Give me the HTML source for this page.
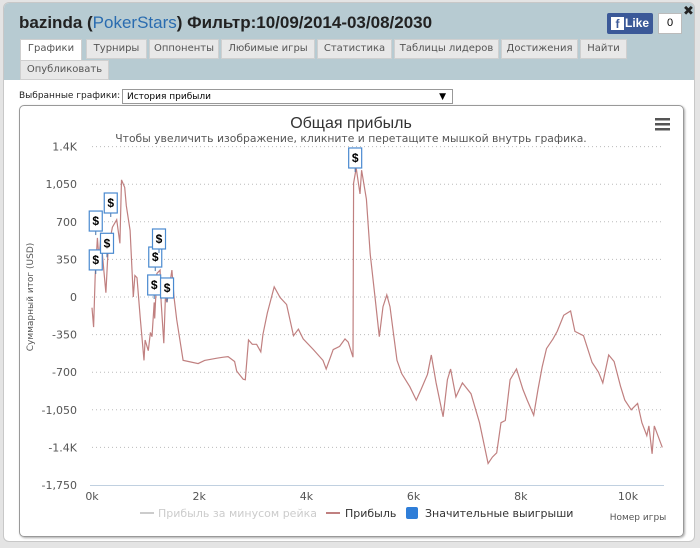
<!DOCTYPE html>
<html><head><meta charset="utf-8">
<style>
body{margin:0;width:700px;height:548px;background:#e4e4e4;font-family:"Liberation Sans","DejaVu Sans",sans-serif;position:relative;overflow:hidden}
#frame{position:absolute;left:3px;top:2px;width:690px;height:538px;background:#fff;border-radius:6px;overflow:hidden;border:1px solid #c8c8c8}
#hdr{position:absolute;left:0;top:0;width:690px;height:77px;background:#b7cbd2}
.tab{position:absolute;height:18px;line-height:18px;font-size:10px;color:#555;background:#e8e8e8;border:1px solid #cfcfcf;text-align:center;font-family:"DejaVu Sans",sans-serif}
</style></head><body>
<div id="frame">
<div id="hdr">
<div style="position:absolute;left:15px;top:10px;font-size:17px;font-weight:bold;color:#222">bazinda (<span style="color:#2a6cb0;font-weight:normal">PokerStars</span>) Фильтр:10/09/2014-03/08/2030</div>
<div style="position:absolute;left:603px;top:10px;width:46px;height:21px;background:#3b5998;border-radius:2px;color:#fff;font-size:12px;font-weight:bold;line-height:21px;text-align:right;padding-right:4px;box-sizing:border-box"><span style="position:absolute;left:4px;top:4px;width:13px;height:13px;background:#fff;color:#3b5998;line-height:15px;text-align:center;font-size:12px">f</span>Like</div>
<div style="position:absolute;left:654px;top:10px;width:22px;height:19px;background:#fff;border:1px solid #bbb;font-size:11px;text-align:center;line-height:19px">0</div>
<div style="position:absolute;left:679px;top:0px;font-size:13px;font-weight:bold;color:#222">✖</div>
<div class="tab" style="left:16px;top:36px;width:60px;background:#fff;height:20px">Графики</div>
<div class="tab" style="left:82px;top:36px;width:59px">Турниры</div>
<div class="tab" style="left:145px;top:36px;width:68px">Оппоненты</div>
<div class="tab" style="left:217px;top:36px;width:92px">Любимые игры</div>
<div class="tab" style="left:313px;top:36px;width:73px">Статистика</div>
<div class="tab" style="left:390px;top:36px;width:103px">Таблицы лидеров</div>
<div class="tab" style="left:497px;top:36px;width:75px">Достижения</div>
<div class="tab" style="left:576px;top:36px;width:45px">Найти</div>
<div class="tab" style="left:16px;top:57px;width:87px">Опубликовать</div>
</div>
<div style="position:absolute;left:15px;top:88px;font-size:9px;font-family:'DejaVu Sans',sans-serif;color:#222">Выбранные графики:</div>
<div style="position:absolute;left:118px;top:86px;border:1px solid #999;font-size:9px;font-family:'DejaVu Sans',sans-serif;line-height:14px;padding-left:4px;box-sizing:border-box;width:331px;height:15px">История прибыли<span style="position:absolute;right:6px;top:0">▼</span></div>
<div style="position:absolute;left:15px;top:102px;width:663px;height:430px;border:1px solid #999;border-radius:5px;box-shadow:1px 1px 2px #aaa"></div>
</div>
<svg id="chart" width="700" height="548" style="position:absolute;left:0;top:0">
<text x="351" y="128" text-anchor="middle" font-size="16" fill="#333">Общая прибыль</text>
<text x="351" y="142" text-anchor="middle" font-size="10.8" fill="#555" font-family="DejaVu Sans,sans-serif">Чтобы увеличить изображение, кликните и перетащите мышкой внутрь графика.</text>
<g fill="#555"><rect x="655" y="118" width="15" height="2.5"/><rect x="655" y="123" width="15" height="2.5"/><rect x="655" y="128" width="15" height="2.5"/></g>
<text transform="translate(33,297) rotate(-90)" text-anchor="middle" font-size="9" fill="#555" font-family="DejaVu Sans,sans-serif">Суммарный итог (USD)</text>
<g id="grid"></g><g id="xax"></g><g id="series"></g><g id="flags"></g>
<g font-size="11" font-family="DejaVu Sans,sans-serif">
<g><line x1="140" y1="513" x2="154" y2="513" stroke="#ccc" stroke-width="2"/><text x="158" y="517" fill="#ccc">Прибыль за минусом рейка</text></g>
<g><line x1="326" y1="513" x2="340" y2="513" stroke="#c08080" stroke-width="2"/><text x="345" y="517" fill="#333">Прибыль</text></g>
<g><rect x="406" y="507" width="12" height="12" rx="2" fill="#2f7ed8"/><text x="425" y="517" fill="#333">Значительные выигрыши</text></g>
</g>
<text x="638" y="520" text-anchor="middle" font-size="9" fill="#555" font-family="DejaVu Sans,sans-serif">Номер игры</text>
</svg>
<script>
const yTicks=[1400,1050,700,350,0,-350,-700,-1050,-1400,-1750];
const yTickLabels=["1.4K","1,050","700","350","0","-350","-700","-1,050","-1.4K","-1,750"];
const xTicks=[0,2,4,6,8,10];
const xTickLabels=["0k","2k","4k","6k","8k","10k"];
const games=[0,0.03,0.06,0.10,0.13,0.17,0.18,0.22,0.26,0.30,0.38,0.46,0.52,0.55,0.61,0.64,0.71,0.77,0.80,0.84,0.90,0.97,0.99,1.05,1.09,1.12,1.16,1.17,1.21,1.27,1.29,1.34,1.37,1.40,1.49,1.53,1.58,1.70,1.80,1.98,2.1,2.33,2.45,2.54,2.66,2.70,2.82,2.86,2.92,2.99,3.07,3.15,3.19,3.27,3.40,3.51,3.63,3.76,3.85,3.94,4.13,4.31,4.37,4.50,4.62,4.72,4.78,4.87,4.88,4.93,5.0,5.03,5.12,5.19,5.28,5.36,5.43,5.50,5.56,5.62,5.69,5.78,5.93,6.05,6.14,6.26,6.33,6.42,6.55,6.63,6.69,6.79,6.91,7.07,7.23,7.39,7.47,7.55,7.63,7.71,7.80,7.92,8.04,8.12,8.24,8.32,8.40,8.48,8.60,8.68,8.80,8.93,9.01,9.17,9.33,9.45,9.53,9.64,9.74,9.86,9.94,10.06,10.18,10.26,10.35,10.39,10.45,10.49,10.64];
const profit=[-100,-280,200,550,350,600,480,250,40,440,650,720,500,1090,1020,850,620,0,200,180,-190,-590,-400,-500,-330,-370,-50,-200,220,250,-40,-430,0,-50,250,0,-210,-590,-600,-620,-590,-570,-560,-555,-600,-690,-765,-770,-400,-440,-440,-510,-345,-150,95,-5,-70,-360,-300,-390,-490,-590,-670,-490,-460,-390,-420,-560,1060,1200,960,1180,910,400,0,-370,-90,20,-90,-320,-590,-715,-835,-960,-860,-720,-540,-800,-1115,-770,-670,-930,-800,-900,-1170,-1550,-1490,-1450,-1170,-1150,-770,-670,-860,-960,-1100,-860,-650,-480,-390,-320,-170,-130,-320,-360,-610,-700,-800,-540,-600,-830,-960,-1050,-990,-1170,-1290,-1200,-1460,-1200,-1400];
const winGames=[0.07,0.07,0.28,0.35,1.16,1.18,1.25,1.40,4.91];
const winValues=[345,707,500,875,112,372,540,84,1294];
const NS='http://www.w3.org/2000/svg';
const X0=92,X1=664,PX=53.6,Y0=297,PY=37.6/350;
function xs(g){return X0+g*PX;}
function ys(v){return Y0-v*PY;}
function mk(tag,attrs,parent,txt){const e=document.createElementNS(NS,tag);for(const k in attrs)e.setAttribute(k,attrs[k]);if(txt!==undefined)e.textContent=txt;parent.appendChild(e);return e;}
const grid=document.getElementById('grid');
yTicks.forEach((t,i)=>{
  if(i<yTicks.length-1){const l=mk('line',{x1:X0,x2:X1,y1:ys(t),y2:ys(t),stroke:'#bbb','stroke-dasharray':'1,3'},grid);
  
  }
  const tx=mk('text',{x:77,y:ys(t)+4,'text-anchor':'end','font-size':11,fill:'#555','font-family':'DejaVu Sans,sans-serif'},grid,yTickLabels[i]);
  
  
});
const xax=document.getElementById('xax');
const axl=mk('line',{x1:X0-2,x2:X1,y1:ys(-1750)+0.5,y2:ys(-1750)+0.5,stroke:'#c0d0e0'},xax);


xTicks.forEach((t,i)=>{
  const tx=mk('text',{x:xs(t),y:ys(-1750)+15,'text-anchor':'middle','font-size':11,fill:'#555','font-family':'DejaVu Sans,sans-serif'},xax,xTickLabels[i]);
  
  
});
const pts=games.map((g,i)=>xs(g).toFixed(1)+','+ys(profit[i]).toFixed(1)).join(' ');
const pl=mk('polyline',{points:pts,fill:'none',stroke:'#c08080','stroke-width':1.2},document.getElementById('series'));


const fl=document.getElementById('flags');
winGames.forEach((g,i)=>{
  const cx=xs(g),cy=ys(winValues[i]);
  const gg=mk('g',{},fl);
  
  
  mk('line',{x1:cx,x2:cx,y1:cy+10,y2:cy+14,stroke:'#4572a7'},gg);
  mk('rect',{x:cx-6.5,y:cy-10,width:13,height:20,fill:'#fff',stroke:'#4a8ad0','stroke-width':1.2},gg);
  mk('text',{x:cx,y:cy+4,'text-anchor':'middle','font-size':12,'font-weight':'bold',fill:'#000'},gg,'$');
});
</script>
</body></html>
